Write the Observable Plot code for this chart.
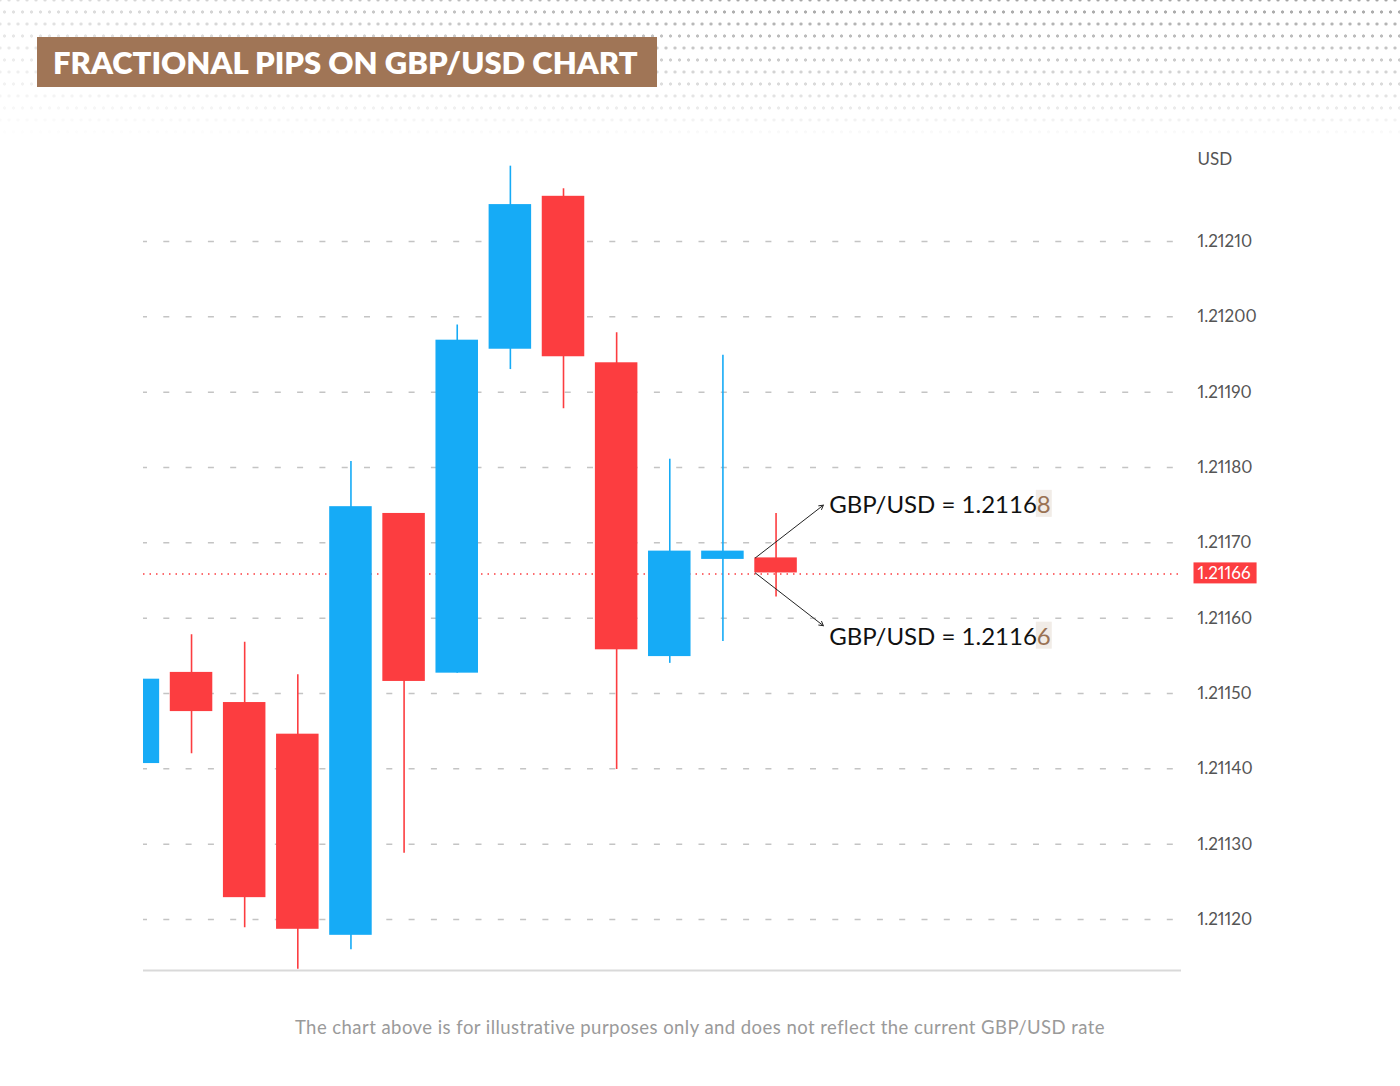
<!DOCTYPE html>
<html><head><meta charset="utf-8">
<script src="https://cdn.jsdelivr.net/npm/d3@7"></script>
<script src="https://cdn.jsdelivr.net/npm/@observablehq/plot@0.6"></script>
<style>
html,body{margin:0;padding:0;background:#fff;}
#page{position:relative;width:1400px;height:1086px;overflow:hidden;font-family:Lato,"Open Sans",sans-serif;}
#dots{position:absolute;left:0;top:0;width:1400px;height:140px;
 background-image: radial-gradient(circle, #a0a0a0 1.3px, transparent 1.9px), radial-gradient(circle, #a0a0a0 1.3px, transparent 1.9px);
 background-size: 9px 24px, 9px 24px;
 background-position: 0 0, 4.5px 12px;
 -webkit-mask-image: linear-gradient(to bottom, rgba(0,0,0,0.95), rgba(0,0,0,0));
 mask-image: linear-gradient(to bottom, rgba(0,0,0,0.95), rgba(0,0,0,0));}
#fadeL{position:absolute;left:0;top:0;width:1400px;height:140px;background:linear-gradient(to right, rgba(255,255,255,0.65), rgba(255,255,255,0) 55%);}
#title{position:absolute;left:37px;top:37px;width:620px;height:50px;background:#A07556;color:#fff;font-weight:800;font-size:31px;line-height:50px;padding-left:16px;box-sizing:border-box;font-family:Lato,sans-serif;white-space:nowrap;}
#chart{position:absolute;left:0;top:130px;}
#footer{position:absolute;left:0;width:1400px;top:1016px;text-align:center;color:#9a9a9a;font-size:18.5px;letter-spacing:0.45px;line-height:22px;}
</style>
</head><body>
<div id="page">
  <div id="dots"></div>
  <div id="fadeL"></div>
  <div id="title">FRACTIONAL PIPS ON GBP/USD CHART</div>
  <div id="chart"></div>
  <div id="footer">The chart above is for illustrative purposes only and does not reflect the current GBP/USD rate</div>
</div>
<script>
// ---- data ----
const candleIndex = [0, 1, 2, 3, 4, 5, 6, 7, 8, 9, 10, 11, 12];
const opens  = [1.211407, 1.211528, 1.211488, 1.211446, 1.211179, 1.211739, 1.211527, 1.211957, 1.212160, 1.211939, 1.211549, 1.211678, 1.21168];
const closes = [1.211519, 1.211476, 1.211229, 1.211187, 1.211748, 1.211516, 1.211969, 1.212149, 1.211947, 1.211558, 1.211689, 1.211689, 1.21166];
const highs  = [1.211519, 1.211578, 1.211568, 1.211525, 1.211808, 1.211739, 1.211989, 1.212200, 1.212170, 1.211979, 1.211811, 1.211949, 1.211739];
const lows   = [1.211407, 1.211420, 1.211189, 1.211134, 1.211160, 1.211288, 1.211527, 1.211930, 1.211878, 1.211399, 1.211540, 1.211569, 1.211628];
const yTicks = [1.21120, 1.21130, 1.21140, 1.21150, 1.21160, 1.21170, 1.21180, 1.21190, 1.21200, 1.21210];
const currentPrice = 1.21166;
const annotValues = [1.21168, 1.21166];
const annotLabels = ["GBP/USD = 1.21168", "GBP/USD = 1.21166"];
const axisUnit = "USD";

// ---- build ----
const BLUE = "#16ABF6", RED = "#FC3D40";
const candles = candleIndex.map((i, k) => ({i, open: opens[k], close: closes[k], high: highs[k], low: lows[k]}));
const lastIdx = candleIndex[candleIndex.length - 1];
const annots = annotValues.map((v, k) => ({v, label: annotLabels[k], up: k === 0}));
const yDomain = [1.2111323, 1.2122208];
const col = d => d.close >= d.open ? BLUE : RED;

const svg = Plot.plot({
  width: 1400, height: 870,
  marginLeft: 143, marginRight: 219, marginTop: 20, marginBottom: 30,
  x: {domain: [0.096, 19.63], axis: null},
  y: {domain: yDomain, axis: null},
  style: {fontFamily: "Lato, 'Open Sans', sans-serif", fontSize: "17px", background: "transparent", overflow: "visible"},
  marks: [
    Plot.gridY(yTicks, {stroke: "#c4c4c4", strokeOpacity: 1, strokeWidth: 1.5, strokeDasharray: "6,16.3", strokeDashoffset: 2}),
    Plot.ruleY([currentPrice], {stroke: RED, strokeWidth: 1.5, strokeDasharray: "1.5,5", dy: 1}),
    Plot.ruleY([yDomain[0]], {stroke: "#d9d9d9", strokeWidth: 2}),
    Plot.ruleX(candles, {x: "i", y1: "low", y2: "high", stroke: col, strokeWidth: 1.6, clip: true}),
    Plot.rectY(candles, {x1: d => d.i - 0.4, x2: d => d.i + 0.4, y1: "open", y2: "close", fill: col, clip: true}),
    Plot.arrow(annots, {x1: lastIdx - 0.39, y1: "v", x2: lastIdx + 0.89, y2: d => d.up ? d.v + 0.00007 : d.v - 0.00007,
      stroke: "#222", strokeWidth: 1, headLength: 7, bend: false, insetEnd: 0}),
    Plot.text(annots, {x: lastIdx + 1.0, y: d => d.up ? d.v + 0.00007 : d.v - 0.000085, text: "label", textAnchor: "start",
      fontSize: 24, fill: "#111", ariaLabel: () => "annot"}),
    Plot.axisY(yTicks, {anchor: "right", tickSize: 0, tickPadding: 16, tickFormat: d3.format(".5f"), fill: "#555", fontSize: 17, label: null}),
    Plot.text([axisUnit], {frameAnchor: "top-right", lineAnchor: "middle", dx: 16, dy: 9, textAnchor: "start", fill: "#555", fontSize: 17}),
    Plot.text([currentPrice], {frameAnchor: "right", y: d => d, text: d => d3.format(".5f")(d), dx: 16, dy: 1, textAnchor: "start",
      fill: "#fff", fontSize: 17, ariaLabel: () => "pricelabel"})
  ]
});
document.getElementById("chart").append(svg);

function textsFor(label) {
  const out = [];
  svg.querySelectorAll(`[aria-label="${label}"]`).forEach(el => {
    if (el.tagName.toLowerCase() === "text") out.push(el);
    else el.querySelectorAll("text").forEach(t => out.push(t));
  });
  return out;
}
const annTexts = textsFor("annot");
// proportional digits for tick labels and price label (narrow "1")
svg.querySelectorAll("text").forEach(t => { if (!annTexts.includes(t)) t.style.fontVariantNumeric = "proportional-nums"; });

// highlight last digit of annotation labels
annTexts.forEach(el => {
  const s = el.textContent;
  const t = d3.select(el);
  t.text(null);
  t.append("tspan").text(s.slice(0, -1));
  t.append("tspan").text(s.slice(-1)).attr("fill", "#9a7253");
  const ext = el.getExtentOfChar(s.length - 1);
  d3.select(el.parentNode).insert("rect", () => el)
    .attr("transform", el.getAttribute("transform"))
    .attr("x", ext.x - 1).attr("y", ext.y + 1).attr("width", ext.width + 2).attr("height", ext.height - 2)
    .attr("fill", "#f1ece7");
});
// red box behind current price label
textsFor("pricelabel").forEach(el => {
  const b = el.getBBox();
  d3.select(el.parentNode).insert("rect", () => el)
    .attr("transform", el.getAttribute("transform"))
    .attr("x", b.x - 4).attr("y", b.y + b.height / 2 - 10.5).attr("width", b.width + 10).attr("height", 21)
    .attr("fill", RED);
});
</script>
</body></html>
